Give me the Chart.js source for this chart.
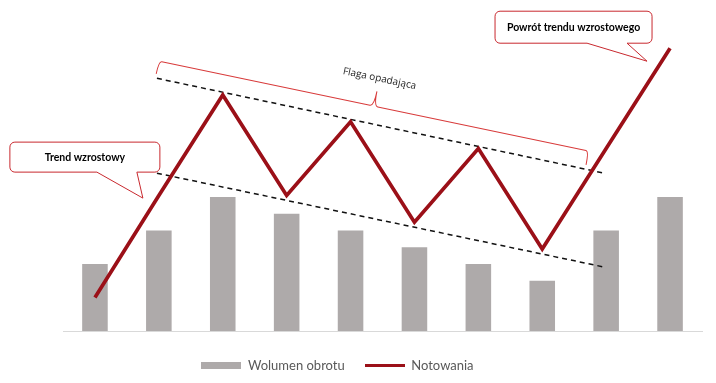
<!DOCTYPE html>
<html>
<head>
<meta charset="utf-8">
<script src="https://cdn.jsdelivr.net/npm/chart.js@4"></script>
<style>
  html, body { margin: 0; padding: 0; background: #fff; }
  #wrap { width: 716px; height: 383px; }
</style>
</head>
<body>
<div id="wrap"><canvas id="flagChart"></canvas></div>
<script>
// categories (no labels shown on the axis)
const labels = ['1', '2', '3', '4', '5', '6', '7', '8', '9', '10'];

// series
const volume = [4, 6, 8, 7, 6, 5, 4, 3, 6, 8];
const quotes = [2.0, 8.1, 14.1, 8.1, 12.5, 6.5, 10.9, 4.9, 10.9, 16.9];

// flag channel (category index, value)
const upperTrendX = [0.97, 7.97];
const upperTrendY = [15.1, 9.43];
const lowerTrendX = [0.97, 7.97];
const lowerTrendY = [9.43, 3.82];

// bracket over the flag
const bracketX = [1.0, 7.73];
const bracketY = [16.12, 10.75];
const bracketLabel = 'Flaga opadająca';

// callouts: text and where the pointer ends
const calloutText = ['Trend wzrostowy', 'Powrót trendu wzrostowego'];
const calloutTipX = [0.75, 8.64];
const calloutTipY = [7.94, 16.12];

const lineColor = '#9b1018';
const barColor = '#aeaaaa';
const bracketColor = '#d83a3a';

function lineSwatch(w, h, color) {
    const c = document.createElement('canvas');
    c.width = w;
    c.height = h;
    const cx = c.getContext('2d');
    cx.fillStyle = color;
    cx.fillRect(0, 0, w, h);
    return c;
}

// callout box with a tail ending at tip
function drawCallout(ctx, text, tip, box, tail) {
    const left = tip.x + box.dx;
    const top = tip.y + box.dy;
    const right = left + box.w;
    const bottom = top + box.h;
    const r = 5;
    ctx.save();
    ctx.beginPath();
    ctx.moveTo(left + r, top);
    ctx.lineTo(right - r, top);
    ctx.arcTo(right, top, right, top + r, r);
    ctx.lineTo(right, bottom - r);
    ctx.arcTo(right, bottom, right - r, bottom, r);
    ctx.lineTo(tip.x + tail[1], bottom);
    ctx.lineTo(tip.x, tip.y);
    ctx.lineTo(tip.x + tail[0], bottom);
    ctx.lineTo(left + r, bottom);
    ctx.arcTo(left, bottom, left, bottom - r, r);
    ctx.lineTo(left, top + r);
    ctx.arcTo(left, top, left + r, top, r);
    ctx.closePath();
    ctx.fillStyle = '#fff';
    ctx.fill();
    ctx.strokeStyle = '#c8282e';
    ctx.lineWidth = 1;
    ctx.stroke();
    ctx.fillStyle = '#000';
    ctx.font = 'bold 10.5px Lato';
    ctx.textAlign = 'center';
    ctx.textBaseline = 'middle';
    ctx.fillText(text, (left + right) / 2, (top + bottom) / 2);
    ctx.restore();
}

const channelPlugin = {
    id: 'channel',
    // dashed channel goes over the bars, under the price line
    beforeDatasetDraw(chart, args) {
        if (args.index !== 0) return;
        const { ctx, scales: { x, y } } = chart;
        ctx.save();
        ctx.strokeStyle = '#111';
        ctx.lineWidth = 1.5;
        ctx.setLineDash([5, 4]);
        [[upperTrendX, upperTrendY], [lowerTrendX, lowerTrendY]].forEach(([xs, ys]) => {
            ctx.beginPath();
            ctx.moveTo(x.getPixelForValue(xs[0]), y.getPixelForValue(ys[0]));
            ctx.lineTo(x.getPixelForValue(xs[1]), y.getPixelForValue(ys[1]));
            ctx.stroke();
        });
        ctx.restore();
    },
    afterDatasetsDraw(chart) {
        const { ctx, scales: { x, y } } = chart;
        // bracket
        const x0 = x.getPixelForValue(bracketX[0]);
        const y0 = y.getPixelForValue(bracketY[0]);
        const x1 = x.getPixelForValue(bracketX[1]);
        const y1 = y.getPixelForValue(bracketY[1]);
        const ang = Math.atan2(y1 - y0, x1 - x0);
        const len = Math.hypot(x1 - x0, y1 - y0);
        ctx.save();
        ctx.translate(x0, y0);
        ctx.rotate(ang);
        ctx.strokeStyle = bracketColor;
        ctx.lineWidth = 1;
        ctx.beginPath();
        ctx.moveTo(0, 13);
        ctx.quadraticCurveTo(0, 0, 3, 0);
        ctx.lineTo(len / 2 - 4, 0);
        ctx.quadraticCurveTo(len / 2, 0, len / 2, -15);
        ctx.quadraticCurveTo(len / 2, 0, len / 2 + 4, 0);
        ctx.lineTo(len - 3, 0);
        ctx.quadraticCurveTo(len, 0, len, 14);
        ctx.stroke();
        ctx.fillStyle = '#222';
        ctx.font = '10px "Open Sans"';
        ctx.textAlign = 'center';
        ctx.textBaseline = 'middle';
        ctx.fillText(bracketLabel, len / 2, -28);
        ctx.restore();

        // callouts
        const tip0 = { x: x.getPixelForValue(calloutTipX[0]), y: y.getPixelForValue(calloutTipY[0]) };
        const tip1 = { x: x.getPixelForValue(calloutTipX[1]), y: y.getPixelForValue(calloutTipY[1]) };
        drawCallout(ctx, calloutText[0], tip0, { dx: -133, dy: -56, w: 150, h: 30 }, [-46, -6]);
        drawCallout(ctx, calloutText[1], tip1, { dx: -152, dy: -50, w: 157, h: 32 }, [-60, -20]);
    }
};

// shift the legend so it sits where the original has it
const legendShift = {
    id: 'legendShift',
    afterLayout(chart) {
        const lg = chart.legend;
        lg.left -= 45;
        lg.right -= 45;
    }
};

const flagChart = new Chart(document.getElementById('flagChart'), {
    type: 'bar',
    data: {
        labels,
        datasets: [
            {
                type: 'line',
                label: 'Notowania',
                data: quotes,
                borderColor: lineColor,
                backgroundColor: lineColor,
                borderWidth: 3.7,
                borderJoinStyle: 'miter',
                tension: 0,
                pointRadius: 0,
                order: 1,
                pointStyle: lineSwatch(40, 3, lineColor)
            },
            {
                label: 'Wolumen obrotu',
                data: volume,
                backgroundColor: barColor,
                barPercentage: 0.4,
                categoryPercentage: 1.0,
                order: 2,
                pointStyle: lineSwatch(40, 7, barColor)
            }
        ]
    },
    options: {
        responsive: true,
        maintainAspectRatio: false,
        animation: false,
        layout: {
            padding: { left: 63, right: 14, top: 13, bottom: 1 }
        },
        plugins: {
            legend: {
                position: 'bottom',
                reverse: true,
                labels: {
                    usePointStyle: true,
                    pointStyleWidth: 40,
                    boxHeight: 7,
                    padding: 20,
                    color: '#595959',
                    font: { family: 'Lato', size: 13 }
                }
            },
            tooltip: { enabled: false }
        },
        scales: {
            x: {
                grid: { display: false },
                ticks: { display: false },
                border: { color: '#d9d9d9', width: 1 }
            },
            y: {
                display: false,
                min: 0,
                max: 19
            }
        }
    },
    plugins: [channelPlugin, legendShift]
});
</script>
</body>
</html>
